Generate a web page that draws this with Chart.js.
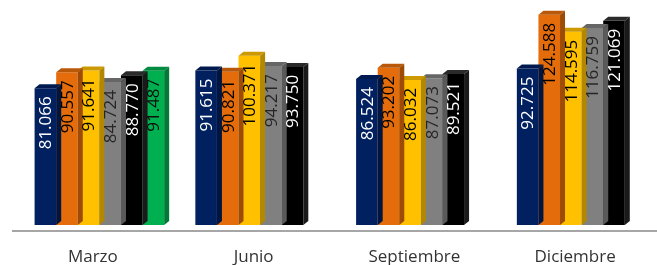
<!DOCTYPE html>
<html><head><meta charset="utf-8">
<script src="https://cdn.jsdelivr.net/npm/chart.js@4"></script>
<style>
html,body{margin:0;padding:0;overflow:hidden;background:#fff;width:657px;height:265px}
#wrap{width:662px;height:265px}
canvas{display:block}
</style></head>
<body><div id="wrap"><canvas id="c" width="662" height="265"></canvas></div>
<script>
const categories = ['Marzo', 'Junio', 'Septiembre', 'Diciembre'];
const seriesNavy   = [81.066, 91.615, 86.524, 92.725];
const seriesOrange = [90.557, 90.821, 93.202, 124.588];
const seriesYellow = [91.641, 100.371, 86.032, 114.595];
const seriesGray   = [84.724, 94.217, 87.073, 116.759];
const seriesBlack  = [88.770, 93.750, 89.521, 121.069];
const seriesGreen  = [91.487, null, null, null];

const styles = [
  {front:'#002060', top:'#001a4f', side:'#00153f', label:'#ffffff'},
  {front:'#E46C0A', top:'#B85808', side:'#9E4B07', label:'#000000'},
  {front:'#FFC000', top:'#CC9A00', side:'#B38700', label:'#000000'},
  {front:'#808080', top:'#666666', side:'#5a5a5a', label:'#262626'},
  {front:'#000000', top:'#2a2a2a', side:'#1a1a1a', label:'#ffffff'},
  {front:'#00B050', top:'#008C40', side:'#007A36', label:'#0d0d0d'}
];
const seriesList = [seriesNavy, seriesOrange, seriesYellow, seriesGray, seriesBlack, seriesGreen];

const DX = 5, DY = 4;
const bar3d = {
  id: 'bar3d',
  afterDatasetDraw(chart, args) {
    const ctx = chart.ctx;
    const meta = chart.getDatasetMeta(args.index);
    const st = styles[args.index];
    const base = chart.scales.y.getPixelForValue(0);
    const data = chart.data.datasets[args.index].data;
    ctx.save();
    meta.data.forEach((el, i) => {
      if (data[i] == null) return;
      const p = el.getProps(['x', 'y', 'width'], true);
      const l = p.x - p.width / 2, r = p.x + p.width / 2, y = p.y;
      ctx.fillStyle = st.top;
      ctx.beginPath();
      ctx.moveTo(l, y); ctx.lineTo(l + DX, y - DY); ctx.lineTo(r + DX, y - DY); ctx.lineTo(r, y);
      ctx.closePath(); ctx.fill();
      ctx.fillStyle = st.side;
      ctx.beginPath();
      ctx.moveTo(r, y); ctx.lineTo(r + DX, y - DY); ctx.lineTo(r + DX, base - DY); ctx.lineTo(r, base);
      ctx.closePath(); ctx.fill();
    });
    ctx.restore();
  },
  afterDatasetsDraw(chart) {
    const ctx = chart.ctx;
    ctx.save();
    chart.data.datasets.forEach((ds, di) => {
      const meta = chart.getDatasetMeta(di);
      meta.data.forEach((el, i) => {
        const v = ds.data[i];
        if (v == null) return;
        const p = el.getProps(['x', 'y'], true);
        ctx.save();
        ctx.translate(p.x + 1, p.y + 8);
        ctx.rotate(-Math.PI / 2);
        ctx.font = '17px "Open Sans"';
        ctx.fillStyle = styles[di].label;
        ctx.textAlign = 'right';
        ctx.textBaseline = 'middle';
        ctx.fillText(v.toFixed(3), 0, 0);
        ctx.restore();
      });
    });
    const base = chart.scales.y.getPixelForValue(0);
    ctx.strokeStyle = '#a6a6a6';
    ctx.lineWidth = 2;
    ctx.beginPath();
    ctx.moveTo(chart.chartArea.left - 7, base + 6);
    ctx.lineTo(chart.width, base + 6);
    ctx.stroke();
    ctx.restore();
  }
};

new Chart(document.getElementById('c'), {
  type: 'bar',
  data: {
    labels: categories,
    datasets: seriesList.map((d, i) => ({
      data: d,
      backgroundColor: styles[i].front,
      borderWidth: 0,
      barPercentage: 1,
      categoryPercentage: 0.806
    }))
  },
  options: {
    responsive: false,
    animation: false,
    events: [],
    layout: {padding: {left: 19, right: 0, top: 0, bottom: 0}},
    plugins: {legend: {display: false}, tooltip: {enabled: false}},
    scales: {
      x: {
        grid: {display: false},
        border: {display: false},
        afterFit: (scale) => { scale.height = 40; },
        ticks: {
          font: {family: 'Open Sans', size: 17, lineHeight: 1},
          color: '#333333',
          padding: 16,
          labelOffset: -6.5,
          maxRotation: 0
        }
      },
      y: {display: false, min: 0, max: 133.4}
    }
  },
  plugins: [bar3d]
});
</script>
</body></html>
